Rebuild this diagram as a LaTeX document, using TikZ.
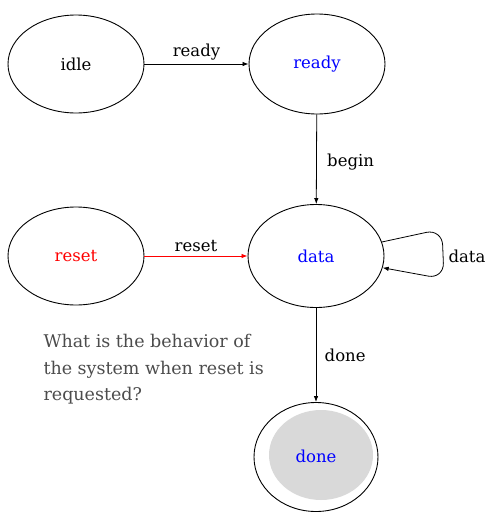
\documentclass[tikz,border=0pt]{standalone}
\usepackage{fontspec}
\setmainfont{DejaVu Serif}
\usetikzlibrary{shapes.geometric,arrows.meta}
\tikzset{
  state/.style={draw,line width=0.9pt,ellipse,inner sep=0pt,minimum width=136pt,minimum height=98pt},
  trans/.style={-{Latex[length=6pt,width=4.5pt]},line width=0.8pt},
  lbl/.style={font=\fontsize{16.5}{19}\selectfont},
}
\begin{document}
\begin{tikzpicture}[x=1pt,y=-1pt,every node/.style={font=\fontsize{16.5}{19}\selectfont}]
\useasboundingbox (0,0) rectangle (500,525);
% states
\node[state] (idle) at (76,64) {idle};
\node[state,text=blue,minimum height=100pt] (ready) at (317,64) {ready};
\node[state,text=red] (reset) at (76,256) {reset};
\node[state,text=blue,minimum height=103pt] (data) at (316,256) {data};
\node[state,minimum width=124pt,minimum height=109pt] (done) at (316,457) {};
\fill[black!15] (321,455) ellipse (52 and 45);
\node[text=blue] (donetxt) at (316,456) {done};
% transitions
\draw[trans] (idle) -- (ready) node[lbl,midway,above=0pt] (lready) {ready};
\draw[trans] (ready) -- (data) node[lbl,midway,right=7pt,yshift=-3pt] (lbegin) {begin};
\draw[trans,red] (reset) -- (data) node[lbl,midway,above=1pt,text=black] (lreset) {reset};
\draw[trans] (data) -- (done) node[lbl,midway,right=5pt] (ldone) {done};
\draw[trans,rounded corners=16pt] (data.12) -- (442,229) -- (444,279) -- (data.-10);
\node[lbl] (ldata) at (467,256) {data};
% question
\node[align=left,anchor=north west,text=black!70,font=\fontsize{17.5}{26.5}\selectfont] (question) at (40,331)
  {What is the behavior of\\the system when reset is\\requested?};
\end{tikzpicture}
\end{document}
